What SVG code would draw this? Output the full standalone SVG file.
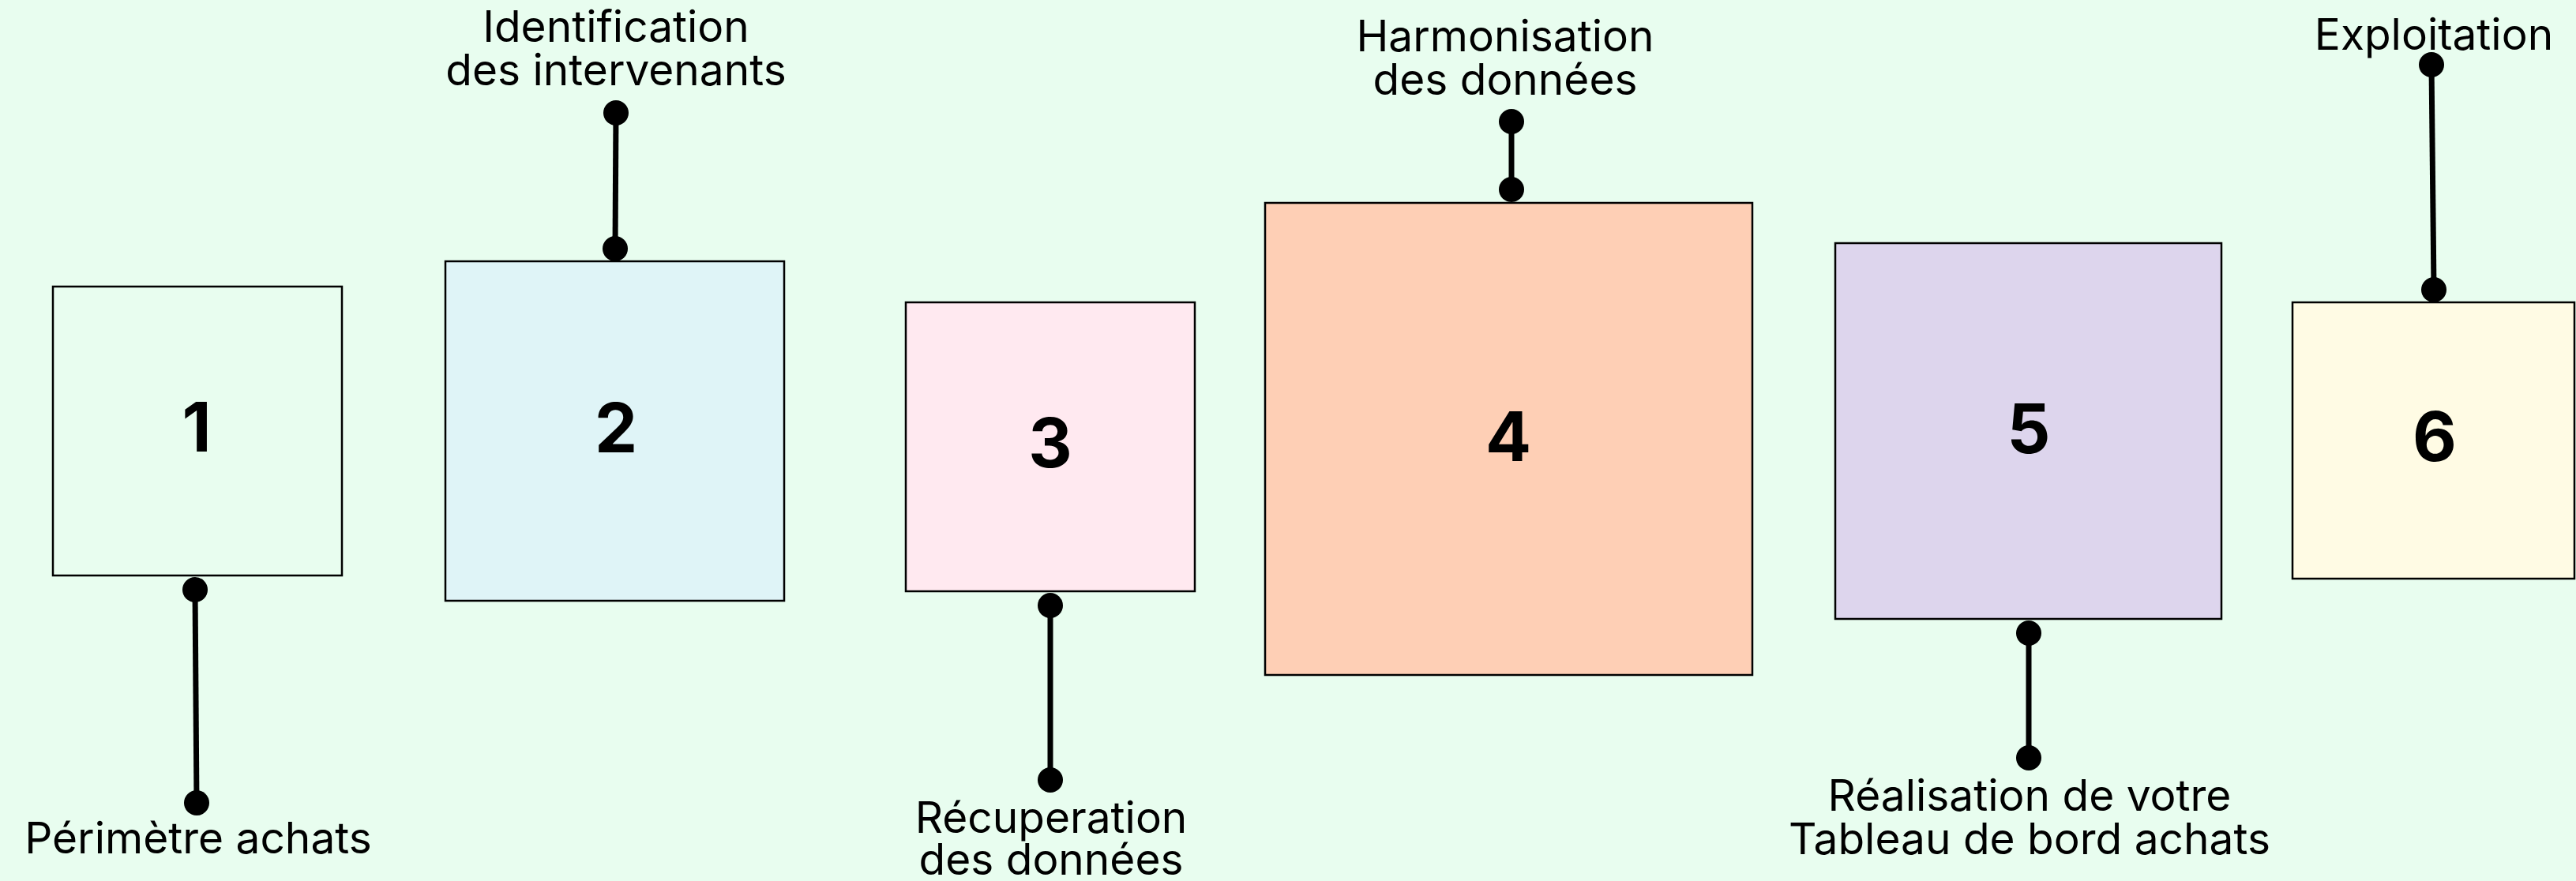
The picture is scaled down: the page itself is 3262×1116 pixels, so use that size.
<svg xmlns="http://www.w3.org/2000/svg" width="3262" height="1116" viewBox="0 0 3262 1116">
<style>
.box{stroke:#000;stroke-width:2.5}
.num{font-family:Inter,"Liberation Sans",sans-serif;font-weight:700;font-size:86px;fill:#000;text-anchor:middle}
.lbl{font-family:Inter,"Liberation Sans",sans-serif;font-weight:400;font-size:55px;fill:#000;text-anchor:middle}
.ln{stroke:#000;stroke-width:7;fill:none}
.dot{fill:#000}
</style>
<rect width="3262" height="1116" fill="#e8fdef"/>
<g id="node1">
<rect class="box" x="67" y="363" width="366" height="366" fill="#e8fdef"/>
<text class="num" x="249" y="572">1</text>
<text class="lbl" x="251" y="1081">Périmètre achats</text>
</g>
<g id="node2">
<rect class="box" x="564" y="331" width="429" height="430" fill="#dff4f7"/>
<text class="num" x="780" y="573">2</text>
<text class="lbl" x="780" y="53">Identification<tspan x="780" dy="55">des intervenants</tspan></text>
</g>
<g id="node3">
<rect class="box" x="1147" y="383" width="366" height="366" fill="#ffe9f0"/>
<text class="num" x="1330" y="592">3</text>
<text class="lbl" x="1331" y="1055">Récuperation<tspan x="1331" dy="53">des données</tspan></text>
</g>
<g id="node4">
<rect class="box" x="1602" y="257" width="617" height="598" fill="#fecfb5"/>
<text class="num" x="1910" y="584">4</text>
<text class="lbl" x="1906" y="65">Harmonisation<tspan x="1906" dy="55">des données</tspan></text>
</g>
<g id="node5">
<rect class="box" x="2324" y="308" width="489" height="476" fill="#ddd5ed"/>
<text class="num" x="2569" y="574">5</text>
<text class="lbl" x="2570" y="1027">Réalisation de votre<tspan x="2570" dy="55">Tableau de bord achats</tspan></text>
</g>
<g id="node6">
<rect class="box" x="2903" y="383" width="357" height="350" fill="#fffbe4"/>
<text class="num" x="3083" y="584">6</text>
<text class="lbl" x="3082" y="63">Exploitation</text>
</g>
<g id="connectors">
<line class="ln" x1="247" y1="747" x2="249" y2="1017"/>
<circle class="dot" cx="247" cy="747" r="16"/>
<circle class="dot" cx="249" cy="1017" r="16"/>
<line class="ln" x1="780" y1="143" x2="779" y2="315"/>
<circle class="dot" cx="780" cy="143" r="16"/>
<circle class="dot" cx="779" cy="315" r="16"/>
<line class="ln" x1="1330" y1="767" x2="1330" y2="988"/>
<circle class="dot" cx="1330" cy="767" r="16"/>
<circle class="dot" cx="1330" cy="988" r="16"/>
<line class="ln" x1="1914" y1="154" x2="1914" y2="240"/>
<circle class="dot" cx="1914" cy="154" r="16"/>
<circle class="dot" cx="1914" cy="240" r="16"/>
<line class="ln" x1="2569" y1="802" x2="2569" y2="960"/>
<circle class="dot" cx="2569" cy="802" r="16"/>
<circle class="dot" cx="2569" cy="960" r="16"/>
<line class="ln" x1="3079" y1="82" x2="3082" y2="367"/>
<circle class="dot" cx="3079" cy="82" r="16"/>
<circle class="dot" cx="3082" cy="367" r="16"/>
</g>
</svg>
